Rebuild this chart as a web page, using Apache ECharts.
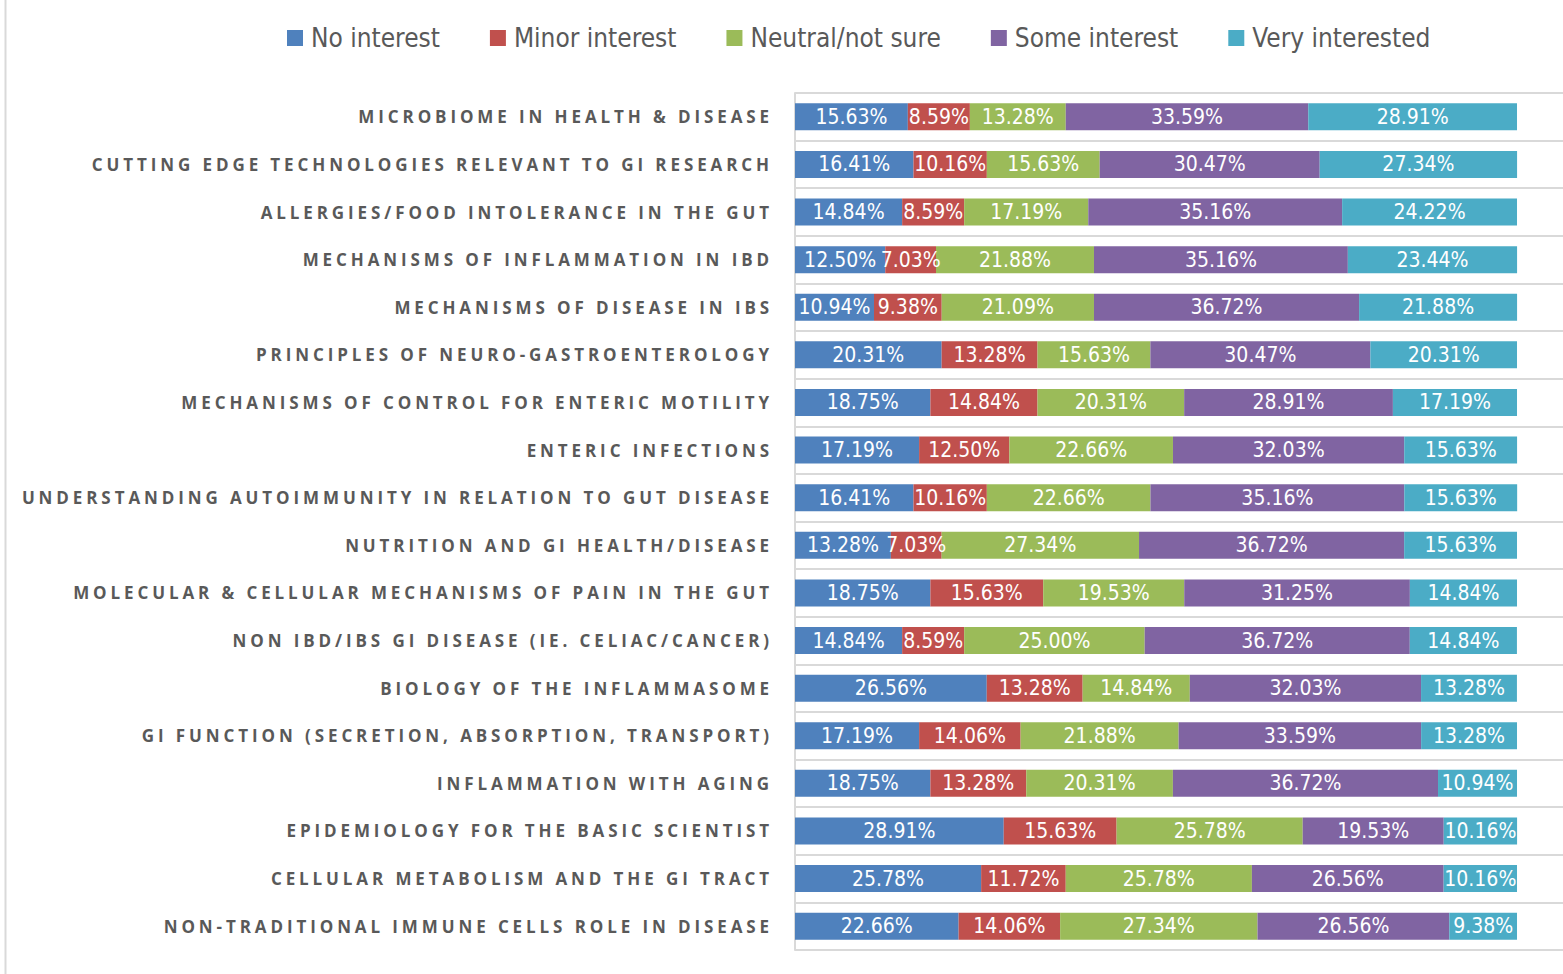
<!DOCTYPE html>
<html>
<head>
<meta charset="utf-8">
<script src="https://cdn.jsdelivr.net/npm/echarts@6/dist/echarts.min.js"></script>
<style>
  html, body { margin: 0; padding: 0; background: #fff; }
  #main { width: 1563px; height: 974px; }
</style>
</head>
<body>
<div id="main"></div>
<script>
// topics, top to bottom
const topics = [
  "MICROBIOME IN HEALTH & DISEASE",
  "CUTTING EDGE TECHNOLOGIES RELEVANT TO GI RESEARCH",
  "ALLERGIES/FOOD INTOLERANCE IN THE GUT",
  "MECHANISMS OF INFLAMMATION IN IBD",
  "MECHANISMS OF DISEASE IN IBS",
  "PRINCIPLES OF NEURO-GASTROENTEROLOGY",
  "MECHANISMS OF CONTROL FOR ENTERIC MOTILITY",
  "ENTERIC INFECTIONS",
  "UNDERSTANDING AUTOIMMUNITY IN RELATION TO GUT DISEASE",
  "NUTRITION AND GI HEALTH/DISEASE",
  "MOLECULAR & CELLULAR MECHANISMS OF PAIN IN THE GUT",
  "NON IBD/IBS GI DISEASE (IE. CELIAC/CANCER)",
  "BIOLOGY OF THE INFLAMMASOME",
  "GI FUNCTION (SECRETION, ABSORPTION, TRANSPORT)",
  "INFLAMMATION WITH AGING",
  "EPIDEMIOLOGY FOR THE BASIC SCIENTIST",
  "CELLULAR METABOLISM AND THE GI TRACT",
  "NON-TRADITIONAL IMMUNE CELLS ROLE IN DISEASE"
];

const noInterest    = [15.63, 16.41, 14.84, 12.50, 10.94, 20.31, 18.75, 17.19, 16.41, 13.28, 18.75, 14.84, 26.56, 17.19, 18.75, 28.91, 25.78, 22.66];
const minorInterest = [8.59, 10.16, 8.59, 7.03, 9.38, 13.28, 14.84, 12.50, 10.16, 7.03, 15.63, 8.59, 13.28, 14.06, 13.28, 15.63, 11.72, 14.06];
const neutral       = [13.28, 15.63, 17.19, 21.88, 21.09, 15.63, 20.31, 22.66, 22.66, 27.34, 19.53, 25.00, 14.84, 21.88, 20.31, 25.78, 25.78, 27.34];
const someInterest  = [33.59, 30.47, 35.16, 35.16, 36.72, 30.47, 28.91, 32.03, 35.16, 36.72, 31.25, 36.72, 32.03, 33.59, 36.72, 19.53, 26.56, 26.56];
const veryInterest  = [28.91, 27.34, 24.22, 23.44, 21.88, 20.31, 17.19, 15.63, 15.63, 15.63, 14.84, 14.84, 13.28, 13.28, 10.94, 10.16, 10.16, 9.38];

const seriesNames = ["No interest", "Minor interest", "Neutral/not sure", "Some interest", "Very interested"];
const seriesData = [noInterest, minorInterest, neutral, someInterest, veryInterest];
const colors = ["#4F81BD", "#C0504D", "#9BBB59", "#8064A2", "#4BACC6"];

const narrow = "'Liberation Sans Narrow', 'DejaVu Sans Condensed', sans-serif";

let myChart = echarts.init(document.getElementById("main"), null, { renderer: "svg" });

let option = {
  animation: false,
  color: colors,
  legend: {
    top: 20,
    left: 282,
    itemWidth: 16,
    itemHeight: 16,
    itemGap: 50,
    icon: "rect",
    textStyle: { fontSize: 26, color: "#595959", fontFamily: narrow, padding: [0, 0, 0, 3] },
    data: seriesNames
  },
  grid: { left: 795, right: 0, top: 93, bottom: 24 },
  xAxis: {
    type: "value",
    min: 0,
    max: 106.37,
    show: false
  },
  yAxis: {
    type: "category",
    inverse: true,
    data: topics,
    axisTick: { show: false },
    axisLine: { show: true, lineStyle: { color: "#d9d9d9", width: 2 } },
    splitLine: { show: true, lineStyle: { color: "#d9d9d9", width: 2 } },
    axisLabel: {
      margin: 22,
      fontSize: 17,
      fontWeight: "bold",
      color: "#595959",
      fontFamily: "'Open Sans', sans-serif"
    }
  },
  series: seriesNames.map((name, i) => ({
    name: name,
    type: "bar",
    stack: "total",
    barWidth: 27,
    data: seriesData[i],
    label: {
      show: true,
      position: "inside",
      color: "#fff",
      fontSize: 21,
      fontFamily: narrow,
      formatter: p => p.value.toFixed(2) + "%"
    }
  })),
  graphic: [
    {
      type: "line",
      shape: { x1: 5.5, y1: 0, x2: 5.5, y2: 974 },
      style: { stroke: "#d9d9d9", lineWidth: 2 }
    },
    {
      type: "line",
      shape: { x1: 795, y1: 950, x2: 1563, y2: 950 },
      style: { stroke: "#d9d9d9", lineWidth: 2 }
    }
  ]
};

myChart.setOption(option);

// canvas has no letter spacing option, so widen the topic labels in the svg
function spaceTopics () {
  document.querySelectorAll("#main text").forEach(t => {
    if (topics.indexOf(t.textContent) >= 0) {
      t.style.letterSpacing = "3.9px";
    }
  });
}
spaceTopics();
myChart.on("finished", spaceTopics);
</script>
</body>
</html>
